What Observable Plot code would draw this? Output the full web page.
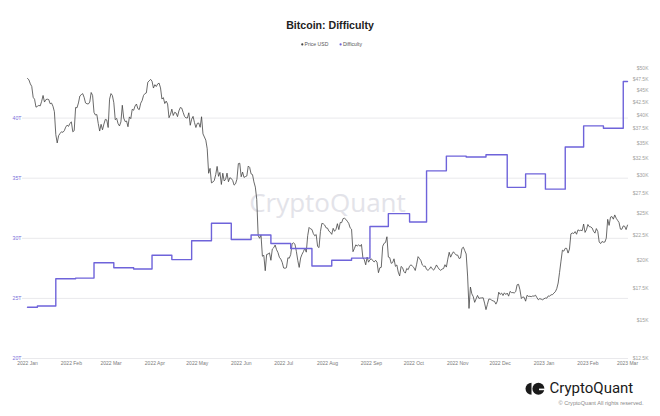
<!DOCTYPE html>
<html><head><meta charset="utf-8">
<script src="https://cdn.jsdelivr.net/npm/d3@7"></script>
<script src="https://cdn.jsdelivr.net/npm/@observablehq/plot@0.6"></script>
<style>
body{margin:0;background:#fff;}
#wrap{position:relative;width:660px;height:416px;overflow:hidden;background:#fff;}
#chart{position:absolute;left:0;top:0;}
#overlay{position:absolute;left:0;top:0;pointer-events:none;}
</style></head><body>
<div id="wrap"><div id="chart"></div>
<svg id="overlay" width="660" height="416" font-family="Liberation Sans, Arial, sans-serif">
  <text id="title" x="330" y="28.5" text-anchor="middle" font-weight="bold" font-size="10.6" fill="#222"></text>
  <g id="legend"></g>
  <g id="logo">
    <path d="M531.5,382.8 A6,6 0 0 0 531.5,394.8 Z" fill="#1a1a1a"/>
    <circle cx="538.4" cy="388.8" r="6" fill="#1a1a1a"/>
    <rect x="539" y="388.6" width="6" height="1.6" fill="#fff"/>
    <text id="brand" x="549.5" y="393.4" font-family="Roboto, Liberation Sans, sans-serif" font-weight="400" font-size="15" fill="#1a1a1a"></text>
    <text id="copy" x="643.5" y="405.3" text-anchor="end" font-size="5.6" fill="#8a8a8a"></text>
  </g>
</svg>
</div>
<script>
// ---------- data ----------
const titleText = "Bitcoin: Difficulty";
const seriesNames = ["Price USD", "Difficulty"];
const seriesColors = ["#444444", "#6e63da"];
const brandText = "CryptoQuant";
const copyrightText = "\u00A9 CryptoQuant All rights reserved.";

const priceStart = "2022-01-01";
// daily BTC price, thousands USD
const priceK = [
 // 2022 Jan
 47.69,47.35,46.46,45.90,43.57,43.16,41.56,41.73,41.91,41.82,42.74,43.95,42.59,43.10,43.18,43.11,42.25,42.38,41.74,40.68,36.46,35.03,36.28,36.65,36.95,36.85,37.14,37.78,38.14,37.92,38.48,
 // Feb
 38.74,36.95,37.15,41.50,41.44,42.41,43.84,44.12,44.34,43.57,42.41,42.24,42.20,42.59,44.58,43.96,40.54,40.03,40.12,38.43,37.08,38.29,37.30,38.33,39.21,39.11,37.71,43.19,
 // Mar
 44.35,43.93,42.45,39.14,39.40,38.42,37.99,38.73,41.94,39.44,38.80,38.90,37.85,39.67,39.34,41.14,40.95,41.80,42.19,41.25,41.08,42.36,42.89,43.96,44.35,44.50,46.82,47.13,47.47,47.06,45.54,
 // Apr
 46.28,45.87,46.45,46.62,45.56,43.21,43.50,42.29,42.78,42.21,39.52,40.13,41.17,39.94,40.55,40.42,39.72,40.83,41.50,41.37,40.53,39.74,39.49,39.47,40.46,38.12,39.24,39.77,38.61,37.71,
 // May
 38.47,38.53,37.75,39.70,36.58,36.04,35.50,34.06,30.30,31.02,28.94,29.05,29.28,30.10,31.31,29.86,30.43,28.72,30.31,29.20,29.43,30.32,29.10,29.66,29.56,29.27,28.63,28.81,29.45,31.73,31.79,
 // Jun
 29.80,30.47,29.70,29.83,29.91,31.37,31.16,30.21,30.11,29.08,28.36,26.76,22.49,22.21,22.57,20.38,20.47,19.02,20.55,20.60,20.71,19.99,21.09,21.23,21.50,21.03,20.74,20.28,20.10,19.79,
 // Jul
 19.27,19.24,19.30,20.23,20.19,20.55,21.64,21.73,21.59,20.86,19.97,19.32,20.21,20.57,20.84,21.19,20.78,22.49,23.39,23.23,23.16,22.71,22.47,22.61,21.36,21.24,22.93,23.84,23.80,23.66,23.34,
 // Aug
 23.31,22.98,22.85,22.63,23.29,22.96,23.18,23.81,23.15,23.95,23.93,24.40,24.44,24.31,24.09,23.85,23.34,23.19,20.83,21.14,21.52,21.40,21.53,21.37,21.56,20.24,20.04,19.56,20.29,19.81,20.05,
 // Sep
 20.13,19.95,19.83,19.99,19.81,18.84,19.29,19.33,21.38,21.68,21.77,22.37,20.30,20.24,19.70,19.77,20.13,19.42,19.55,18.89,18.55,19.41,19.30,18.94,18.80,19.22,19.11,19.43,19.57,19.43,
 // Oct
 19.31,19.04,19.62,20.34,20.16,19.96,19.55,19.42,19.45,19.14,19.05,19.16,19.38,19.19,19.07,19.27,19.55,19.33,19.14,19.05,19.17,19.21,19.57,19.35,20.10,20.77,20.29,20.60,20.82,20.64,20.50,
 // Nov
 20.49,20.16,20.21,21.15,21.28,20.93,20.60,18.54,15.88,17.59,17.03,16.80,16.35,16.62,16.90,16.66,16.69,16.70,16.71,16.29,15.79,16.19,16.61,16.60,16.52,16.46,16.43,16.21,16.44,17.16,
 // Dec
 16.98,17.09,16.89,17.11,16.97,17.09,16.84,17.23,17.13,17.13,17.10,17.21,17.78,17.82,17.36,16.65,16.78,16.74,16.44,16.91,16.82,16.83,16.80,16.85,16.84,16.92,16.72,16.55,16.64,16.60,16.55,
 // 2023 Jan
 16.63,16.69,16.68,16.86,16.84,16.95,16.96,17.09,17.20,17.45,17.93,18.87,19.91,20.98,20.88,21.17,21.16,20.69,21.09,22.68,22.78,22.72,22.93,22.64,23.12,23.03,23.08,23.03,23.77,22.84,23.14,
 // Feb
 23.72,23.47,23.45,23.33,22.96,22.76,23.26,22.94,21.82,21.65,21.87,21.79,21.81,22.22,24.31,23.62,24.57,24.64,24.33,24.83,24.44,24.19,23.95,23.20,23.18,23.56,23.52,23.15,
 // Mar
 23.65
];

// difficulty adjustments (trillions)
const diffDates = ["2022-01-01","2022-01-08","2022-01-21","2022-02-04","2022-02-17","2022-03-03","2022-03-17","2022-03-30","2022-04-13","2022-04-27","2022-05-11","2022-05-25","2022-06-08","2022-06-22","2022-07-06","2022-07-21","2022-08-04","2022-08-18","2022-08-31","2022-09-13","2022-09-28","2022-10-10","2022-10-24","2022-11-07","2022-11-21","2022-12-06","2022-12-19","2023-01-02","2023-01-16","2023-01-29","2023-02-12","2023-02-26","2023-03-01"];
const diffValues = [24.27,24.37,26.64,26.69,27.97,27.55,27.45,28.59,28.23,29.79,31.25,29.90,30.28,29.57,29.15,27.69,28.17,28.35,30.98,32.05,31.36,35.61,36.84,36.76,36.95,34.24,35.36,34.09,37.59,39.35,39.16,43.05,43.05];

const leftTicks = [20,25,30,35,40];
const rightTickValues = [12.5,15,17.5,20,22.5,25,27.5,30,32.5,35,37.5,40,42.5,45,47.5,50];
const rightTickLabels = ["$12.5K","$15K","$17.5K","$20K","$22.5K","$25K","$27.5K","$30K","$32.5K","$35K","$37.5K","$40K","$42.5K","$45K","$47.5K","$50K"];
const xDomain = ["2022-01-01","2023-03-01"];

// ---------- build ----------
const parse = d3.utcParse("%Y-%m-%d");
const start = parse(priceStart);
const priceData = priceK.map((p, i) => ({date: d3.utcDay.offset(start, i), p}));
const diffData = diffDates.map((d, i) => ({date: parse(d), v: diffValues[i]}));

const Y_MIN = 20, Y_MAX = 20 + 290 / 12.02;
const pMin = 12.5, pMax = 50;
const priceToY = p => Y_MIN + Math.log(p / pMin) / Math.log(pMax / pMin) * (Y_MAX - Y_MIN);

const monthTicks = d3.utcMonths(parse(xDomain[0]), d3.utcDay.offset(parse(xDomain[1]), 1));

const chart = Plot.plot({
  width: 660, height: 416,
  marginLeft: 27, marginRight: 33, marginTop: 68, marginBottom: 58,
  style: {fontFamily: "Liberation Sans, Arial, sans-serif", background: "transparent"},
  x: {type: "utc", domain: xDomain.map(parse)},
  y: {domain: [Y_MIN, Y_MAX]},
  marks: [
    Plot.ruleY(leftTicks, {stroke: "#e9e9ec", strokeWidth: 1, insetLeft: -5, insetRight: -1}),
    Plot.text([brandText], {frameAnchor: "middle", dy: -10, fontSize: 26, fontFamily: "Open Sans, sans-serif", fontWeight: 400, fill: "#e3e3e9"}),
    Plot.axisY({ticks: leftTicks, tickFormat: d => d + "T", anchor: "left", tickSize: 0, tickPadding: 6, fontSize: 5.2, color: "#7a72da", label: null}),
    Plot.text(rightTickValues, {y: d => priceToY(d), text: (d, i) => rightTickLabels[i], frameAnchor: "right", dx: 21, textAnchor: "end", fontSize: 5, fill: "#a0a0a0"}),
    Plot.axisX({ticks: monthTicks, tickFormat: d3.utcFormat("%Y %b"), tickSize: 0, tickPadding: 3, fontSize: 5, color: "#7a7a7a", label: null}),
    Plot.line(priceData, {x: "date", y: d => priceToY(d.p), stroke: seriesColors[0], strokeWidth: 0.8}),
    Plot.line(diffData, {x: "date", y: "v", curve: "step-after", stroke: seriesColors[1], strokeWidth: 1.4})
  ]
});
document.getElementById("chart").appendChild(chart);

// overlay texts
document.getElementById("title").textContent = titleText;
document.getElementById("brand").textContent = brandText;
document.getElementById("copy").textContent = copyrightText;
const ns = "http://www.w3.org/2000/svg";
const lg = document.getElementById("legend");
const legendX = [302.3, 340.6];
seriesNames.forEach((name, i) => {
  const c = document.createElementNS(ns, "circle");
  c.setAttribute("cx", legendX[i]); c.setAttribute("cy", 44.4); c.setAttribute("r", 1.1);
  c.setAttribute("fill", seriesColors[i]);
  lg.appendChild(c);
  const t = document.createElementNS(ns, "text");
  t.setAttribute("x", legendX[i] + 2.3); t.setAttribute("y", 46.2);
  t.setAttribute("font-size", 5.1); t.setAttribute("fill", "#555");
  t.textContent = name;
  lg.appendChild(t);
});
</script>
</body></html>
